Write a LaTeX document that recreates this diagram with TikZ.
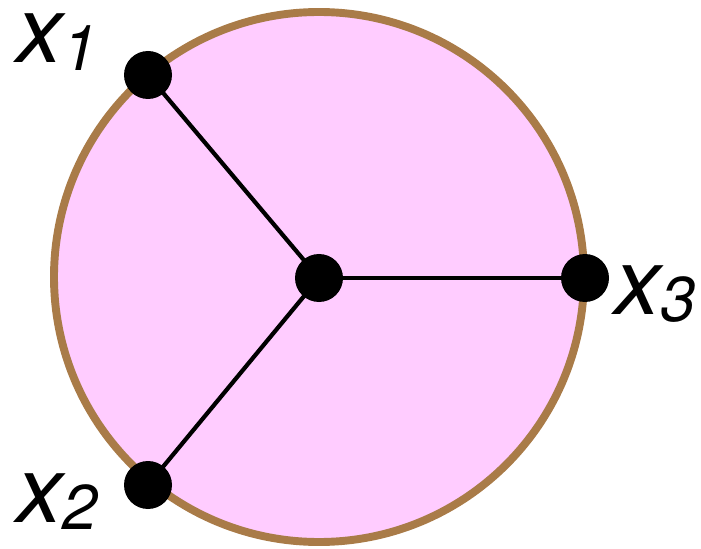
\documentclass[tikz,border=0pt]{standalone}
\usepackage{fontspec}
\usepackage{tikz}
\usetikzlibrary{positioning}
\newfontfamily\lblfont{TeX Gyre Heros}
\definecolor{discfill}{HTML}{FFCCFF}
\definecolor{discrim}{HTML}{A97B48}
\newcommand{\vlabel}[1]{\lblfont\itshape\fontsize{53}{60}\selectfont x\raisebox{-4pt}{\fontsize{36}{40}\selectfont #1}}

\begin{document}
\begin{tikzpicture}[
    line width=1.2pt,
    disc/.style={
        circle,
        draw=discrim,
        fill=discfill,
        line width=4.5pt,
        minimum size=10.6cm,
        inner sep=0pt
    },
    dot/.style={
        circle,
        fill=black,
        minimum size=0.96cm,
        inner sep=0pt
    },
    vname/.style={anchor=base west, inner sep=0pt},
    edge/.style={draw=black, line width=2.4pt}
]
\useasboundingbox (0,0) rectangle (14.02,10.96);

\node[disc] (disc) at (6.38,5.42) {};

\node[dot] (ctr) at (6.38,5.40) {};
\node[dot] (p1) at (2.96,9.46) {};
\node[dot] (p2) at (2.96,1.26) {};
\node[dot] (p3) at (11.70,5.40) {};

\draw[edge] (ctr.center) -- (p1.center);
\draw[edge] (ctr.center) -- (p2.center);
\draw[edge] (ctr.center) -- (p3.center);

\node[vname] (l1) at (0.30,9.70) {\vlabel{1}};
\node[vname] (l2) at (0.30,0.52) {\vlabel{2}};
\node[vname] (l3) at (12.26,4.68) {\vlabel{3}};

\end{tikzpicture}
\end{document}
